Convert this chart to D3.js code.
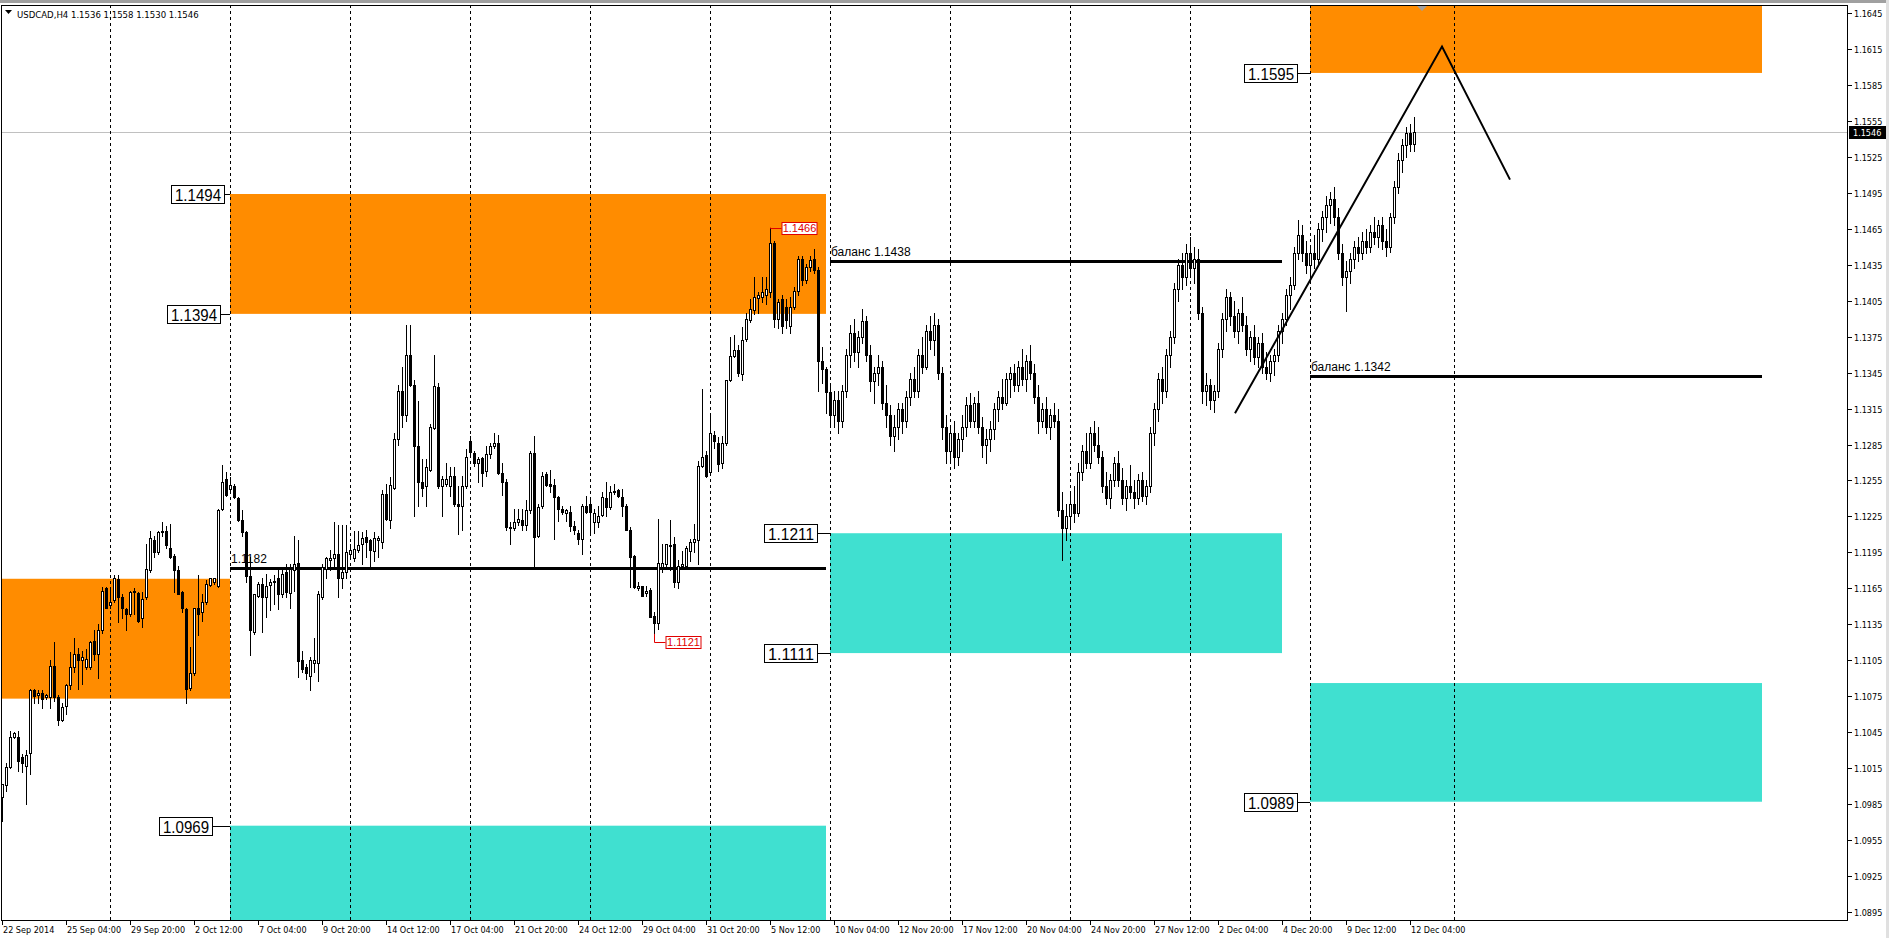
<!DOCTYPE html>
<html><head><meta charset="utf-8">
<script src="https://cdn.jsdelivr.net/npm/d3@7"></script>
<style>html,body{margin:0;padding:0;background:#fff;overflow:hidden}svg{display:block}</style>
</head><body>
<svg id="c" width="1889" height="938"></svg>
<script>
// ---------------- DATA ----------------
const symbolName = "USDCAD,H4";
const open = [
1.0991,1.1001,1.1016,1.1041,1.1041,1.1024,1.1017,1.1028,1.1080,1.1076,
1.1078,1.1074,1.1074,1.1100,1.1074,1.1055,1.1067,1.1084,1.1099,1.1110,
1.1105,1.1099,1.1099,1.1121,1.1110,1.1130,1.1165,1.1151,1.1155,1.1173,
1.1158,1.1148,1.1144,1.1162,1.1161,1.1140,1.1158,1.1180,1.1205,1.1195,
1.1212,1.1213,1.1199,1.1192,1.1180,1.1162,1.1148,1.1082,1.1094,1.1149,
1.1145,1.1154,1.1168,1.1170,1.1167,1.1231,1.1256,1.1248,1.1250,1.1240,
1.1222,1.1212,1.1175,1.1129,1.1159,1.1169,1.1158,1.1168,1.1170,1.1174,
1.1160,1.1179,1.1161,1.1180,1.1186,1.1105,1.1099,1.1092,1.1103,1.1103,
1.1158,1.1181,1.1189,1.1190,1.1194,1.1174,1.1179,1.1194,1.1190,1.1197,
1.1202,1.1208,1.1205,1.1196,1.1205,1.1204,1.1244,1.1222,1.1249,1.1290,
1.1330,1.1310,1.1360,1.1335,1.1284,1.1254,1.1250,1.1264,1.1299,1.1333,
1.1250,1.1252,1.1250,1.1259,1.1235,1.1234,1.1250,1.1288,1.1278,1.1270,
1.1274,1.1263,1.1277,1.1284,1.1286,1.1261,1.1254,1.1216,1.1215,1.1220,
1.1222,1.1218,1.1230,1.1278,1.1209,1.1234,1.1260,1.1252,1.1251,1.1241,
1.1231,1.1228,1.1229,1.1217,1.1211,1.1206,1.1234,1.1235,1.1220,1.1220,
1.1226,1.1240,1.1233,1.1245,1.1247,1.1241,1.1234,1.1214,1.1192,1.1165,
1.1167,1.1161,1.1164,1.1142,1.1136,1.1183,1.1185,1.1200,1.1202,1.1170,
1.1184,1.1184,1.1196,1.1204,1.1205,1.1267,1.1276,1.1262,1.1293,1.1286,
1.1270,1.1286,1.1339,1.1359,1.1364,1.1344,1.1373,1.1389,1.1397,1.1407,
1.1408,1.1410,1.1412,1.1453,1.1390,1.1406,1.1400,1.1384,1.1400,1.1413,
1.1440,1.1422,1.1433,1.1440,1.1431,1.1355,1.1348,
1.1329,1.1310,1.1322,1.1305,1.1330,1.1360,1.1378,1.1362,1.1375,1.1388,
1.1360,1.1338,1.1345,1.1350,1.1320,1.1310,1.1292,1.1300,1.1315,1.1305,
1.1325,1.1340,1.1330,1.1360,1.1350,1.1380,1.1372,1.1385,1.1345,1.1300,
1.1280,1.1295,1.1275,1.1290,1.1300,1.1318,1.1305,1.1320,1.1300,1.1285,
1.1290,1.1298,1.1315,1.1325,1.1320,1.1340,1.1345,1.1335,1.1350,1.1340,
1.1355,1.1345,1.1325,1.1305,1.1315,1.1300,1.1310,1.1305,1.1230,1.1215,
1.1225,1.1235,1.1228,1.1262,1.1280,1.1270,1.1295,1.1285,1.1275,1.1250,
1.1240,1.1255,1.1270,1.1255,1.1240,1.1250,1.1245,1.1240,1.1255,1.1242,
1.1250,1.1295,1.1315,1.1340,1.1330,1.1360,1.1375,1.1415,1.1435,1.1425,
1.1445,1.1432,1.1440,1.1395,1.1330,1.1335,1.1322,1.1330,1.1365,1.1390,
1.1408,1.1392,1.1380,1.1395,1.1385,1.1365,1.1375,1.1358,1.1370,1.1350,
1.1345,1.1355,1.1360,1.1380,1.1390,1.1410,1.1418,1.1445,1.1460,1.1445,
1.1435,1.1445,1.1440,1.1465,1.1475,1.1485,1.1490,1.1475,1.1445,1.1425,
1.1430,1.1440,1.1450,1.1445,1.1455,1.1450,1.1462,1.1458,1.1468,1.1455,
1.1450,1.1475,1.1500,1.1522,1.1535,1.1545,1.1536];
const high = [
1.1002,1.1019,1.1046,1.1045,1.1046,1.1027,1.1030,1.1081,1.1081,1.1080,
1.1080,1.1077,1.1105,1.1120,1.1076,1.1069,1.1085,1.1112,1.1124,1.1115,
1.1113,1.1114,1.1121,1.1130,1.1135,1.1166,1.1166,1.1166,1.1176,1.1176,
1.1160,1.1149,1.1163,1.1165,1.1162,1.1162,1.1202,1.1213,1.1209,1.1213,
1.1220,1.1217,1.1219,1.1194,1.1184,1.1163,1.1149,1.1116,1.1149,1.1176,
1.1160,1.1172,1.1174,1.1174,1.1231,1.1268,1.1262,1.1258,1.1252,1.1241,
1.1230,1.1213,1.1191,1.1160,1.1170,1.1174,1.1177,1.1173,1.1176,1.1183,
1.1183,1.1185,1.1185,1.1209,1.1205,1.1113,1.1102,1.1108,1.1124,1.1163,
1.1185,1.1191,1.1197,1.1220,1.1218,1.1218,1.1218,1.1202,1.1213,1.1213,
1.1212,1.1214,1.1206,1.1212,1.1209,1.1247,1.1252,1.1258,1.1295,1.1335,
1.1350,1.1385,1.1385,1.1339,1.1321,1.1273,1.1273,1.1302,1.1360,1.1336,
1.1259,1.1270,1.1266,1.1266,1.1250,1.1259,1.1281,1.1292,1.1280,1.1275,
1.1275,1.1284,1.1286,1.1295,1.1293,1.1270,1.1256,1.1220,1.1231,1.1231,
1.1231,1.1239,1.1280,1.1292,1.1235,1.1262,1.1262,1.1264,1.1256,1.1242,
1.1234,1.1231,1.1234,1.1221,1.1214,1.1235,1.1242,1.1241,1.1231,1.1234,
1.1245,1.1254,1.1250,1.1252,1.1248,1.1248,1.1235,1.1216,1.1193,1.1170,
1.1167,1.1167,1.1165,1.1145,1.1223,1.1202,1.1202,1.1222,1.1208,1.1189,
1.1196,1.1200,1.1206,1.1219,1.1271,1.1331,1.1280,1.1311,1.1296,1.1291,
1.1292,1.1339,1.1375,1.1376,1.1368,1.1383,1.1395,1.1406,1.1425,1.1412,
1.1425,1.1425,1.1466,1.1455,1.1406,1.1410,1.1406,1.1408,1.1416,1.1442,
1.1442,1.1436,1.1442,1.1448,1.1433,1.1366,1.1350,
1.1335,1.1330,1.1330,1.1335,1.1365,1.1385,1.1390,1.1380,1.1398,1.1392,
1.1368,1.1350,1.1360,1.1355,1.1335,1.1318,1.1310,1.1320,1.1320,1.1330,
1.1345,1.1350,1.1365,1.1375,1.1385,1.1392,1.1395,1.1390,1.1350,1.1310,
1.1300,1.1305,1.1295,1.1310,1.1325,1.1328,1.1325,1.1330,1.1308,1.1298,
1.1305,1.1320,1.1330,1.1340,1.1345,1.1350,1.1352,1.1355,1.1365,1.1360,
1.1368,1.1352,1.1335,1.1320,1.1325,1.1315,1.1320,1.1315,1.1245,1.1235,
1.1245,1.1250,1.1270,1.1285,1.1295,1.1300,1.1305,1.1300,1.1280,1.1262,
1.1260,1.1275,1.1280,1.1265,1.1255,1.1268,1.1255,1.1260,1.1262,1.1255,
1.1300,1.1320,1.1345,1.1350,1.1365,1.1380,1.1420,1.1440,1.1445,1.1452,
1.1458,1.1450,1.1448,1.1400,1.1345,1.1340,1.1335,1.1370,1.1395,1.1415,
1.1412,1.1405,1.1398,1.1408,1.1392,1.1380,1.1385,1.1375,1.1378,1.1362,
1.1360,1.1365,1.1385,1.1395,1.1415,1.1425,1.1450,1.1472,1.1468,1.1455,
1.1450,1.1460,1.1470,1.1480,1.1492,1.1496,1.1500,1.1482,1.1452,1.1438,
1.1445,1.1455,1.1458,1.1462,1.1465,1.1468,1.1475,1.1472,1.1475,1.1465,
1.1478,1.1505,1.1528,1.1540,1.1550,1.1552,1.1558];
const low = [
1.0971,1.0996,1.1015,1.1040,1.1013,1.1012,1.0985,1.1010,1.1069,1.1069,
1.1065,1.1073,1.1065,1.1071,1.1051,1.1054,1.1060,1.1081,1.1095,1.1081,
1.1085,1.1098,1.1098,1.1105,1.1090,1.1128,1.1149,1.1149,1.1154,1.1137,
1.1140,1.1130,1.1142,1.1144,1.1137,1.1133,1.1156,1.1179,1.1191,1.1194,
1.1209,1.1199,1.1190,1.1162,1.1160,1.1145,1.1069,1.1080,1.1093,1.1126,
1.1138,1.1152,1.1167,1.1169,1.1166,1.1230,1.1242,1.1247,1.1240,1.1221,
1.1209,1.1170,1.1109,1.1127,1.1158,1.1129,1.1141,1.1147,1.1152,1.1148,
1.1158,1.1158,1.1149,1.1163,1.1091,1.1095,1.1089,1.1080,1.1095,1.1088,
1.1156,1.1174,1.1180,1.1184,1.1158,1.1165,1.1174,1.1191,1.1188,1.1195,
1.1185,1.1191,1.1184,1.1188,1.1191,1.1199,1.1222,1.1215,1.1248,1.1285,
1.1300,1.1305,1.1334,1.1225,1.1234,1.1242,1.1234,1.1263,1.1298,1.1249,
1.1225,1.1250,1.1242,1.1234,1.1210,1.1214,1.1249,1.1275,1.1267,1.1254,
1.1250,1.1259,1.1274,1.1282,1.1260,1.1243,1.1214,1.1202,1.1214,1.1218,
1.1214,1.1214,1.1228,1.1182,1.1208,1.1232,1.1250,1.1245,1.1206,1.1221,
1.1227,1.1221,1.1213,1.1210,1.1202,1.1194,1.1228,1.1211,1.1211,1.1216,
1.1225,1.1225,1.1231,1.1244,1.1241,1.1225,1.1214,1.1166,1.1165,1.1164,
1.1159,1.1159,1.1141,1.1127,1.1131,1.1179,1.1184,1.1180,1.1166,1.1165,
1.1182,1.1183,1.1188,1.1195,1.1185,1.1266,1.1258,1.1260,1.1282,1.1263,
1.1265,1.1285,1.1338,1.1358,1.1342,1.1339,1.1371,1.1387,1.1394,1.1395,
1.1404,1.1402,1.1408,1.1383,1.1382,1.1378,1.1382,1.1378,1.1398,1.1410,
1.1418,1.1420,1.1430,1.1428,1.1330,1.1336,1.1311,
1.1300,1.1300,1.1295,1.1300,1.1325,1.1350,1.1355,1.1350,1.1370,1.1355,
1.1330,1.1320,1.1335,1.1315,1.1300,1.1285,1.1280,1.1290,1.1295,1.1300,
1.1318,1.1325,1.1325,1.1345,1.1348,1.1365,1.1360,1.1340,1.1290,1.1270,
1.1272,1.1265,1.1268,1.1280,1.1292,1.1300,1.1300,1.1295,1.1275,1.1270,
1.1280,1.1290,1.1305,1.1315,1.1318,1.1325,1.1330,1.1330,1.1335,1.1330,
1.1340,1.1320,1.1295,1.1300,1.1295,1.1290,1.1300,1.1225,1.1189,1.1205,
1.1215,1.1220,1.1225,1.1255,1.1265,1.1265,1.1280,1.1270,1.1245,1.1235,
1.1232,1.1250,1.1250,1.1235,1.1230,1.1240,1.1232,1.1235,1.1238,1.1235,
1.1245,1.1285,1.1305,1.1320,1.1325,1.1350,1.1370,1.1405,1.1415,1.1418,
1.1425,1.1420,1.1390,1.1320,1.1318,1.1315,1.1312,1.1325,1.1358,1.1380,
1.1385,1.1375,1.1370,1.1380,1.1360,1.1355,1.1352,1.1350,1.1345,1.1340,
1.1338,1.1343,1.1355,1.1370,1.1385,1.1398,1.1415,1.1440,1.1438,1.1428,
1.1425,1.1432,1.1435,1.1455,1.1462,1.1470,1.1468,1.1440,1.1418,1.1396,
1.1420,1.1432,1.1438,1.1440,1.1445,1.1446,1.1452,1.1450,1.1448,1.1442,
1.1446,1.1470,1.1495,1.1512,1.1525,1.1530,1.1530];
const close = [
1.1002,1.1016,1.1041,1.1044,1.1021,1.1019,1.1026,1.1080,1.1075,1.1078,
1.1073,1.1076,1.1100,1.1074,1.1055,1.1066,1.1084,1.1099,1.1110,1.1105,
1.1108,1.1106,1.1120,1.1110,1.1130,1.1163,1.1149,1.1154,1.1174,1.1158,
1.1149,1.1144,1.1162,1.1163,1.1138,1.1156,1.1181,1.1207,1.1195,1.1212,
1.1213,1.1201,1.1191,1.1180,1.1160,1.1149,1.1081,1.1094,1.1149,1.1144,
1.1154,1.1169,1.1174,1.1174,1.1230,1.1254,1.1243,1.1251,1.1241,1.1222,
1.1212,1.1175,1.1130,1.1160,1.1169,1.1158,1.1167,1.1170,1.1171,1.1160,
1.1177,1.1162,1.1181,1.1185,1.1104,1.1098,1.1094,1.1105,1.1105,1.1160,
1.1183,1.1190,1.1190,1.1194,1.1174,1.1179,1.1195,1.1197,1.1198,1.1201,
1.1207,1.1204,1.1197,1.1207,1.1207,1.1244,1.1223,1.1251,1.1290,1.1330,
1.1310,1.1360,1.1335,1.1284,1.1254,1.1249,1.1266,1.1300,1.1334,1.1250,
1.1256,1.1256,1.1259,1.1235,1.1234,1.1250,1.1275,1.1279,1.1270,1.1273,
1.1261,1.1277,1.1284,1.1286,1.1261,1.1254,1.1216,1.1215,1.1220,1.1223,
1.1218,1.1230,1.1278,1.1208,1.1233,1.1259,1.1251,1.1250,1.1241,1.1231,
1.1229,1.1230,1.1217,1.1214,1.1206,1.1234,1.1229,1.1229,1.1228,1.1225,
1.1241,1.1233,1.1245,1.1246,1.1242,1.1234,1.1214,1.1191,1.1166,1.1167,
1.1159,1.1163,1.1141,1.1136,1.1186,1.1186,1.1202,1.1201,1.1170,1.1184,
1.1185,1.1199,1.1204,1.1206,1.1267,1.1275,1.1259,1.1295,1.1288,1.1269,
1.1286,1.1339,1.1359,1.1364,1.1345,1.1372,1.1390,1.1398,1.1408,1.1410,
1.1412,1.1415,1.1453,1.1390,1.1404,1.1384,1.1389,1.1400,1.1413,1.1440,
1.1422,1.1433,1.1439,1.1431,1.1355,1.1348,1.1329,
1.1310,1.1322,1.1305,1.1330,1.1360,1.1378,1.1362,1.1375,1.1388,1.1360,
1.1338,1.1345,1.1350,1.1320,1.1310,1.1292,1.1300,1.1315,1.1305,1.1325,
1.1340,1.1330,1.1360,1.1350,1.1380,1.1372,1.1385,1.1345,1.1300,1.1280,
1.1295,1.1275,1.1290,1.1300,1.1318,1.1305,1.1320,1.1300,1.1285,1.1290,
1.1298,1.1315,1.1325,1.1320,1.1340,1.1345,1.1335,1.1350,1.1340,1.1355,
1.1345,1.1325,1.1305,1.1315,1.1300,1.1310,1.1305,1.1230,1.1215,1.1225,
1.1235,1.1228,1.1262,1.1280,1.1270,1.1295,1.1285,1.1275,1.1250,1.1240,
1.1255,1.1270,1.1255,1.1240,1.1250,1.1245,1.1240,1.1255,1.1242,1.1250,
1.1295,1.1315,1.1340,1.1330,1.1360,1.1375,1.1415,1.1435,1.1425,1.1445,
1.1432,1.1440,1.1395,1.1330,1.1335,1.1322,1.1330,1.1365,1.1390,1.1408,
1.1392,1.1380,1.1395,1.1385,1.1365,1.1375,1.1358,1.1370,1.1350,1.1345,
1.1355,1.1360,1.1380,1.1390,1.1410,1.1418,1.1445,1.1460,1.1445,1.1435,
1.1445,1.1440,1.1465,1.1475,1.1485,1.1490,1.1475,1.1445,1.1425,1.1430,
1.1440,1.1450,1.1445,1.1455,1.1450,1.1462,1.1458,1.1468,1.1455,1.1450,
1.1475,1.1500,1.1522,1.1535,1.1545,1.1536,1.1546];

const timeLabels = ["22 Sep 2014","25 Sep 04:00","29 Sep 20:00","2 Oct 12:00","7 Oct 04:00","9 Oct 20:00","14 Oct 12:00","17 Oct 04:00","21 Oct 20:00","24 Oct 12:00","29 Oct 04:00","31 Oct 20:00","5 Nov 12:00","10 Nov 04:00","12 Nov 20:00","17 Nov 12:00","20 Nov 04:00","24 Nov 20:00","27 Nov 12:00","2 Dec 04:00","4 Dec 20:00","9 Dec 12:00","12 Dec 04:00"];
const timeLabelBars = [0,16,32,48,64,80,96,112,128,144,160,176,192,208,224,240,256,272,288,304,320,336,352];
const priceTicks = [1.0895,1.0925,1.0955,1.0985,1.1015,1.1045,1.1075,1.1105,1.1135,1.1165,1.1195,1.1225,1.1255,1.1285,1.1315,1.1345,1.1375,1.1405,1.1435,1.1465,1.1495,1.1525,1.1555,1.1585,1.1615,1.1645];
const gridBars = [27,57,87,117,147,177,207,237,267,297,327,363];

// zones (supply = orange, demand = turquoise)
const zoneKind   = ["supply","supply","demand","demand","demand","supply"];
const zoneStart  = [-2, 57, 57, 207, 327, 327];
const zoneEnd    = [57, 206, 206, 320, 440, 440];
const zoneTop    = [1.1173, 1.1494, 1.0967, 1.1211, 1.1086, 1.1695];
const zoneBottom = [1.1073, 1.1394, 1.0867, 1.1111, 1.0987, 1.1595];

// horizontal levels
const levelValue = [1.1182, 1.1438, 1.1342];
const levelStart = [57, 207, 327];
const levelEnd   = [206, 320, 440];
const levelText  = ["1.1182", "баланс 1.1438", "баланс 1.1342"];

// boxed price labels
const tagValue = [1.1494, 1.1394, 1.0967, 1.1211, 1.1111, 1.1595, 1.0987];
const tagText  = ["1.1494","1.1394","1.0969","1.1211","1.1111","1.1595","1.0989"];
const tagBar   = [57, 57, 57, 207, 207, 327, 327];

// red extreme labels
const extremeBar   = [192, 163];
const extremeValue = [1.1466, 1.1121];

// zigzag projection line
const trendBars   = [308.25, 360, 377];
const trendValues = [1.1311, 1.1617, 1.1506];

// ---------------- LAYOUT / STYLE ----------------
const W = 1889, H = 938, PL = 1, PT = 5, PR = 1847, PB = 920;
const SMALL = '"DejaVu Sans Condensed","Liberation Sans",Arial,sans-serif';
const ORANGE = "#ff8c00", TURQ = "#40e0d0";
const tagGap = [6, 10, 18, 13, 13, 13, 13];

const svg = d3.select("#c");
const x = d3.scaleLinear().domain([0, 461]).range([2, 1846]);
const y = d3.scaleLinear().domain([1.0895, 1.1645]).range([912, 13]);

svg.append("rect").attr("width", W).attr("height", H).attr("fill", "#fff");
svg.append("rect").attr("x", 0).attr("y", 0).attr("width", W).attr("height", 3).attr("fill", "#a0a0a0");
svg.append("rect").attr("x", W - 3).attr("y", 0).attr("width", 3).attr("height", H).attr("fill", "#e0e0e0");

svg.append("defs").append("clipPath").attr("id", "clip")
  .append("rect").attr("x", PL).attr("y", PT).attr("width", PR - PL).attr("height", PB - PT);
const plot = svg.append("g").attr("clip-path", "url(#clip)");

// zones
zoneKind.forEach((k, i) => {
  plot.append("rect")
    .attr("x", x(zoneStart[i])).attr("y", y(zoneTop[i]))
    .attr("width", x(zoneEnd[i]) - x(zoneStart[i]))
    .attr("height", y(zoneBottom[i]) - y(zoneTop[i]))
    .attr("fill", k === "supply" ? ORANGE : TURQ);
});

// current price line
const lastI = close.length - 1;
const lastPrice = close[lastI];
plot.append("line").attr("x1", PL).attr("x2", PR)
  .attr("y1", Math.round(y(lastPrice)) + 0.5).attr("y2", Math.round(y(lastPrice)) + 0.5)
  .attr("stroke", "#c0c0c0").attr("stroke-width", 1);

// grid
plot.selectAll("line.grid").data(gridBars).enter().append("line")
  .attr("class", "grid")
  .attr("x1", d => Math.round(x(d)) + 0.5).attr("x2", d => Math.round(x(d)) + 0.5)
  .attr("y1", PT).attr("y2", PB)
  .attr("stroke", "#000").attr("stroke-width", 1).attr("stroke-dasharray", "3,3");

// levels (background)
levelValue.forEach((v, i) => {
  const yy = Math.round(y(v));
  plot.append("line").attr("x1", x(levelStart[i])).attr("x2", x(levelEnd[i]))
    .attr("y1", yy + 0.5).attr("y2", yy + 0.5).attr("stroke", "#000").attr("stroke-width", 3);
  plot.append("text").attr("x", x(levelStart[i]) + 1).attr("y", yy - 5)
    .attr("font-family", '"Liberation Sans",Arial,sans-serif').attr("font-size", 12)
    .attr("fill", "#000").text(levelText[i]);
});

// candles
const cg = plot.append("g").attr("shape-rendering", "crispEdges");
close.forEach((c, i) => {
  const o = open[i], h = high[i], l = low[i];
  const cx = Math.round(x(i));
  cg.append("line").attr("x1", cx + 0.5).attr("x2", cx + 0.5)
    .attr("y1", Math.round(y(h))).attr("y2", Math.round(y(l)) + 1)
    .attr("stroke", "#000").attr("stroke-width", 1);
  const top = Math.round(y(Math.max(o, c))), bot = Math.round(y(Math.min(o, c)));
  if (bot - top < 1) {
    cg.append("line").attr("x1", cx - 1).attr("x2", cx + 2)
      .attr("y1", top + 0.5).attr("y2", top + 0.5).attr("stroke", "#000");
  } else {
    cg.append("rect").attr("x", cx - 0.5).attr("y", top + 0.5)
      .attr("width", 2).attr("height", bot - top)
      .attr("fill", c >= o ? "#fff" : "#000").attr("stroke", "#000").attr("stroke-width", 1);
  }
});

// zigzag line
plot.append("path")
  .attr("d", d3.line().x(d => x(d[0])).y(d => y(d[1]))(trendBars.map((b, i) => [b, trendValues[i]])))
  .attr("fill", "none").attr("stroke", "#000").attr("stroke-width", 2);

// red extreme labels
extremeBar.forEach((b, i) => {
  const cx = Math.round(x(b)) + 0.5;
  const isHigh = i === 0;
  const py = isHigh ? y(high[b]) : y(low[b]);
  const boxY = Math.round(y(extremeValue[i])) + (isHigh ? 0 : 1);
  const bx = cx + 11;
  plot.append("path").attr("d", `M${cx},${py}V${boxY + 0.5}H${bx}`)
    .attr("fill", "none").attr("stroke", "#e00000").attr("stroke-width", 1);
  plot.append("rect").attr("x", bx + 0.5).attr("y", boxY - 5.5).attr("width", 35).attr("height", 12)
    .attr("fill", "#fff").attr("stroke", "#e00000").attr("stroke-width", 1);
  plot.append("text").attr("x", bx + 18).attr("y", boxY + 4).attr("text-anchor", "middle")
    .attr("font-family", '"Liberation Sans",Arial,sans-serif').attr("font-size", 11)
    .attr("fill", "#e00000").text(extremeValue[i].toFixed(4));
});

// boxed price tags
tagValue.forEach((v, i) => {
  const yy = Math.round(y(v));
  const ax = x(tagBar[i]);
  const right = ax - tagGap[i];
  plot.append("line").attr("x1", right).attr("x2", ax).attr("y1", yy + 0.5).attr("y2", yy + 0.5)
    .attr("stroke", "#000");
  plot.append("rect").attr("x", right - 53 + 0.5).attr("y", yy - 9 + 0.5)
    .attr("width", 53).attr("height", 18).attr("fill", "#fff").attr("stroke", "#000");
  plot.append("text").attr("x", right - 26).attr("y", yy + 6.5).attr("text-anchor", "middle")
    .attr("font-family", '"Liberation Sans",Arial,sans-serif').attr("font-size", 17)
    .attr("textLength", 46).attr("lengthAdjust", "spacingAndGlyphs")
    .attr("fill", "#000").text(tagText[i]);
});

// chart shift marker
const sx = Math.round(x(355));
svg.append("path").attr("d", `M${sx - 5},${PT + 1}L${sx + 5},${PT + 1}L${sx},${PT + 6}Z`).attr("fill", "#a0a0a0");

// frame
svg.append("rect").attr("x", PL + 0.5).attr("y", PT + 0.5).attr("width", PR - PL).attr("height", PB - PT)
  .attr("fill", "none").attr("stroke", "#000").attr("stroke-width", 1);

// price axis
const ax = svg.append("g").attr("font-family", SMALL).attr("font-size", 9).attr("fill", "#000");
priceTicks.forEach(v => {
  const yy = Math.round(y(v));
  ax.append("line").attr("x1", PR + 1).attr("x2", PR + 5).attr("y1", yy + 0.5).attr("y2", yy + 0.5).attr("stroke", "#000");
  ax.append("text").attr("x", PR + 7).attr("y", yy + 3.5).text(v.toFixed(4));
});
const ly = Math.round(y(lastPrice));
ax.append("rect").attr("x", PR + 2).attr("y", ly - 6).attr("width", 37).attr("height", 13).attr("fill", "#000");
ax.append("text").attr("x", PR + 6).attr("y", ly + 4).attr("fill", "#fff").text(lastPrice.toFixed(4));

// time axis
timeLabelBars.forEach((b, i) => {
  const xx = Math.round(x(b));
  ax.append("line").attr("x1", xx + 0.5).attr("x2", xx + 0.5).attr("y1", PB + 1).attr("y2", PB + 5).attr("stroke", "#000");
  ax.append("text").attr("x", xx + 1).attr("y", 933).text(timeLabels[i]);
});

// title
svg.append("path").attr("d", "M5,10L12,10L8.5,14Z").attr("fill", "#000");
svg.append("text").attr("x", 17).attr("y", 18).attr("font-family", SMALL).attr("font-size", 9.5)
  .attr("fill", "#000")
  .text(`${symbolName}  ${open[lastI].toFixed(4)} ${high[lastI].toFixed(4)} ${low[lastI].toFixed(4)} ${close[lastI].toFixed(4)}`);
</script>
</body></html>
